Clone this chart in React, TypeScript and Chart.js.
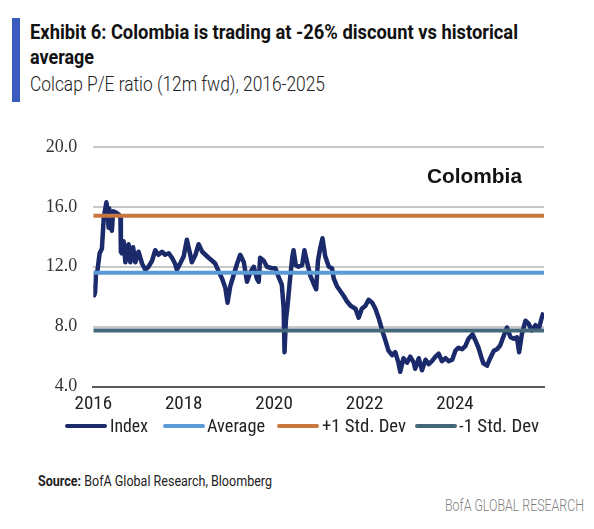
import React, { useEffect, useLayoutEffect, useRef } from 'react';
import { Chart, registerables } from 'chart.js';

Chart.register(...registerables);

// ---- Data ----
const indexDates = [
  2016.01, 2016.02, 2016.04, 2016.06, 2016.09, 2016.14, 2016.19, 2016.23, 2016.25, 2016.29, 2016.31, 2016.34, 2016.35, 2016.38,
  2016.41, 2016.44, 2016.51, 2016.56, 2016.6, 2016.61, 2016.63, 2016.67, 2016.71, 2016.78, 2016.82, 2016.88, 2016.93, 2017.0,
  2017.08, 2017.15, 2017.22, 2017.3, 2017.37, 2017.44, 2017.52, 2017.59, 2017.67, 2017.74, 2017.81, 2017.85, 2017.92, 2018.0,
  2018.07, 2018.13, 2018.18, 2018.26, 2018.33, 2018.41, 2018.48, 2018.55, 2018.63, 2018.7, 2018.77, 2018.85, 2018.92, 2018.97,
  2019.03, 2019.1, 2019.18, 2019.25, 2019.33, 2019.4, 2019.47, 2019.55, 2019.62, 2019.66, 2019.69, 2019.77, 2019.84, 2019.95,
  2020.03, 2020.1, 2020.17, 2020.21, 2020.23, 2020.26, 2020.3, 2020.34, 2020.4, 2020.43, 2020.48, 2020.54, 2020.62, 2020.67,
  2020.73, 2020.8, 2020.87, 2020.93, 2020.97,
  2021.02, 2021.07, 2021.13, 2021.21, 2021.28, 2021.32, 2021.39, 2021.46, 2021.54, 2021.61, 2021.69, 2021.8, 2021.87, 2021.94,
  2022.02, 2022.09, 2022.17, 2022.24, 2022.31, 2022.39, 2022.46, 2022.53, 2022.61, 2022.68, 2022.75, 2022.79, 2022.86, 2022.94,
  2023.01, 2023.09, 2023.12, 2023.2, 2023.27, 2023.35, 2023.42, 2023.49, 2023.57, 2023.64, 2023.71, 2023.79, 2023.86, 2023.94,
  2024.01, 2024.08, 2024.16, 2024.23, 2024.3, 2024.39, 2024.45, 2024.52, 2024.58, 2024.63, 2024.71, 2024.78, 2024.86, 2024.93,
  2025.0, 2025.08, 2025.15, 2025.23, 2025.3, 2025.37, 2025.42, 2025.48, 2025.56, 2025.63, 2025.7, 2025.78, 2025.85, 2025.92, 2025.96,
];

const indexValues = [
  10.8, 10.1, 10.3, 11.6, 11.7, 12.9, 13.2, 15.2, 15.6, 16.3, 15.8, 14.6, 15.9, 14.8,
  14.4, 15.7, 15.6, 15.5, 15.3, 13.0, 12.9, 13.7, 12.3, 13.5, 12.3, 13.3, 12.3, 13.0,
  12.2, 11.8, 12.0, 12.4, 13.1, 12.8, 13.0, 12.8, 12.9, 12.6, 12.2, 11.8, 12.2, 12.7,
  13.8, 13.0, 12.3, 12.8, 13.5, 13.0, 12.8, 12.6, 12.4, 12.2, 11.7, 11.2, 10.6, 9.6,
  10.7, 11.4, 12.2, 12.8, 12.3, 11.0, 11.6, 12.0, 11.2, 11.0, 12.6, 12.4, 12.0, 11.9,
  11.9, 11.3, 10.8, 9.3, 6.3, 8.4, 9.5, 10.8, 12.6, 13.1, 12.1, 12.0, 12.1, 13.1,
  12.3, 11.4, 10.9, 10.5, 12.4,
  13.25, 13.9, 12.7, 12.0, 11.9, 11.2, 10.7, 10.4, 10.05, 9.7, 9.4, 9.2, 8.6, 9.2,
  9.4, 9.8, 9.6, 9.2, 8.6, 7.75, 7.1, 6.4, 6.1, 6.3, 5.6, 5.0, 5.9, 5.6,
  6.0, 5.6, 5.2, 5.9, 5.1, 5.8, 5.5, 5.7, 6.0, 6.2, 5.7, 5.9, 5.7, 5.8,
  6.4, 6.6, 6.5, 6.7, 7.2, 7.5, 7.1, 6.6, 6.0, 5.55, 5.4, 5.9, 6.4, 6.5,
  6.75, 7.4, 7.95, 7.3, 7.2, 7.3, 6.3, 7.5, 8.4, 8.2, 7.75, 8.1, 7.8, 8.6, 8.95,
];

const averageValue = 11.6;
const plusOneSdValue = 15.4;
const minusOneSdValue = 7.75;

const xStart = 2016;
const xEnd = 2025.97;
const xTickYears = [2016, 2018, 2020, 2022, 2024];
const yTickValues = [4, 8, 12, 16, 20];

const seriesNames = ['Index', 'Average', '+1 Std. Dev', '-1 Std. Dev'];
const seriesColors = ['#1b2a6b', '#5b9bd5', '#c8783e', '#44687a'];

const titleLine1 = 'Exhibit 6: Colombia is trading at -26% discount vs historical';
const titleLine2 = 'average';
const subtitle = 'Colcap P/E ratio (12m fwd), 2016-2025';
const chartLabel = 'Colombia';

const NARROW = "'Liberation Sans Narrow', 'Arial Narrow', 'Roboto Condensed', sans-serif";

// legend layout (left of swatch, left of text, text width)
const legendSwatchLeft = [65, 163, 277, 415];
const legendTextLeft = [110, 207, 322, 459];
const legendTextWidth = [38, 58, 84, 80];

function FitText(props: { left: number; top: number; width: number; style: React.CSSProperties; children: React.ReactNode }) {
  const ref = useRef<HTMLSpanElement>(null);
  useLayoutEffect(() => {
    const el = ref.current;
    if (!el) return;
    el.style.transform = 'none';
    const w = el.getBoundingClientRect().width;
    if (w > 0) el.style.transform = `scaleX(${props.width / w})`;
  }, [props.width]);
  return (
    <span
      ref={ref}
      style={{
        position: 'absolute',
        left: props.left,
        top: props.top,
        whiteSpace: 'nowrap',
        display: 'inline-block',
        transformOrigin: '0 0',
        ...props.style,
      }}
    >
      {props.children}
    </span>
  );
}

function ColcapChart() {
  const canvasRef = useRef<HTMLCanvasElement>(null);

  useEffect(() => {
    const canvas = canvasRef.current;
    if (!canvas) return;

    const flat = (v: number) => [
      { x: xStart, y: v },
      { x: xEnd, y: v },
    ];

    const chart = new Chart(canvas, {
      type: 'line',
      data: {
        datasets: [
          {
            label: seriesNames[0],
            data: indexDates.map((d, i) => ({ x: d, y: indexValues[i] })),
            borderColor: seriesColors[0],
            backgroundColor: seriesColors[0],
            borderWidth: 4.5,
            pointRadius: 0,
            tension: 0,
            borderJoinStyle: 'round',
            order: 10,
          },
          {
            label: seriesNames[1],
            data: flat(averageValue),
            borderColor: seriesColors[1],
            backgroundColor: seriesColors[1],
            borderWidth: 4,
            pointRadius: 0,
            order: 3,
          },
          {
            label: seriesNames[2],
            data: flat(plusOneSdValue),
            borderColor: seriesColors[2],
            backgroundColor: seriesColors[2],
            borderWidth: 4,
            pointRadius: 0,
            order: 2,
          },
          {
            label: seriesNames[3],
            data: flat(minusOneSdValue),
            borderColor: seriesColors[3],
            backgroundColor: seriesColors[3],
            borderWidth: 4,
            pointRadius: 0,
            order: 1,
          },
        ],
      },
      options: {
        animation: false,
        responsive: true,
        maintainAspectRatio: false,
        parsing: false as any,
        layout: { padding: { top: 23.3, bottom: 10, left: 0, right: 50 } },
        plugins: {
          legend: { display: false },
          tooltip: { enabled: false },
        },
        scales: {
          x: {
            type: 'linear',
            min: xStart,
            max: xEnd,
            afterBuildTicks: (s: any) => {
              s.ticks = xTickYears.map((v) => ({ value: v }));
            },
            afterFit: (s: any) => {
              s.height = 33.3;
            },
            ticks: {
              callback: (v: any) => String(v),
              font: { family: NARROW, size: 19 },
              color: '#222222',
              padding: 6,
              maxRotation: 0,
              autoSkip: false,
            },
            grid: { display: false, drawTicks: false },
            border: { display: true, color: '#5a5a5a', width: 2 },
          },
          y: {
            type: 'linear',
            min: 4,
            max: 20,
            afterBuildTicks: (s: any) => {
              s.ticks = yTickValues.map((v) => ({ value: v }));
            },
            afterFit: (s: any) => {
              s.width = 93.3;
            },
            ticks: {
              callback: (v: any) => Number(v).toFixed(1),
              font: { family: "'Liberation Serif', 'Times New Roman', serif", size: 18 },
              color: '#333333',
              padding: 16,
            },
            grid: {
              drawTicks: false,
              lineWidth: 2,
              color: (ctx: any) => (ctx.tick && ctx.tick.value === 4 ? '#5a5a5a' : '#c8c8c8'),
            },
            border: { display: false },
          },
        },
      },
    });

    return () => chart.destroy();
  }, []);

  return <canvas ref={canvasRef} />;
}

export default function App() {
  return (
    <div
      style={{
        position: 'fixed',
        left: 0,
        top: 0,
        width: 594,
        height: 529,
        background: '#ffffff',
        overflow: 'hidden',
      }}
    >
      <div style={{ position: 'absolute', left: 12, top: 18, width: 8, height: 84, background: '#3b5bbd' }} />
      <FitText left={29.5} top={22.3} width={488} style={{ fontFamily: 'Roboto', fontWeight: 700, fontSize: 21, lineHeight: '21px', color: '#111' }}>
        {titleLine1}
      </FitText>
      <FitText left={29.5} top={46.5} width={64} style={{ fontFamily: 'Roboto', fontWeight: 700, fontSize: 21, lineHeight: '21px', color: '#111' }}>
        {titleLine2}
      </FitText>
      <FitText left={29.5} top={74.3} width={295} style={{ fontFamily: 'Roboto', fontWeight: 300, fontSize: 21, lineHeight: '21px', color: '#222' }}>
        {subtitle}
      </FitText>

      <div style={{ position: 'absolute', left: 0, top: 120, width: 594, height: 310 }}>
        <ColcapChart />
      </div>

      <FitText left={426.7} top={165.3} width={95} style={{ fontFamily: "'Liberation Sans', Arial, sans-serif", fontWeight: 700, fontSize: 21, lineHeight: '21px', color: '#111' }}>
        {chartLabel}
      </FitText>

      {seriesNames.map((name, i) => (
        <React.Fragment key={name}>
          <span
            style={{
              position: 'absolute',
              left: legendSwatchLeft[i],
              top: 424,
              width: 42,
              height: 4,
              borderRadius: 2,
              background: seriesColors[i],
            }}
          />
          <FitText left={legendTextLeft[i]} top={415} width={legendTextWidth[i]} style={{ fontFamily: NARROW, fontSize: 19, lineHeight: '22px', color: '#222' }}>
            {name}
          </FitText>
        </React.Fragment>
      ))}

      <FitText left={38} top={474.2} width={234} style={{ fontFamily: 'Roboto', fontSize: 14, lineHeight: '14px', color: '#222' }}>
        <span style={{ fontWeight: 700 }}>Source:</span> BofA Global Research, Bloomberg
      </FitText>
      <FitText left={445} top={497.8} width={139} style={{ fontFamily: 'Roboto', fontWeight: 300, fontSize: 16, lineHeight: '16px', color: '#7f7f7f' }}>
        BofA GLOBAL RESEARCH
      </FitText>
    </div>
  );
}
